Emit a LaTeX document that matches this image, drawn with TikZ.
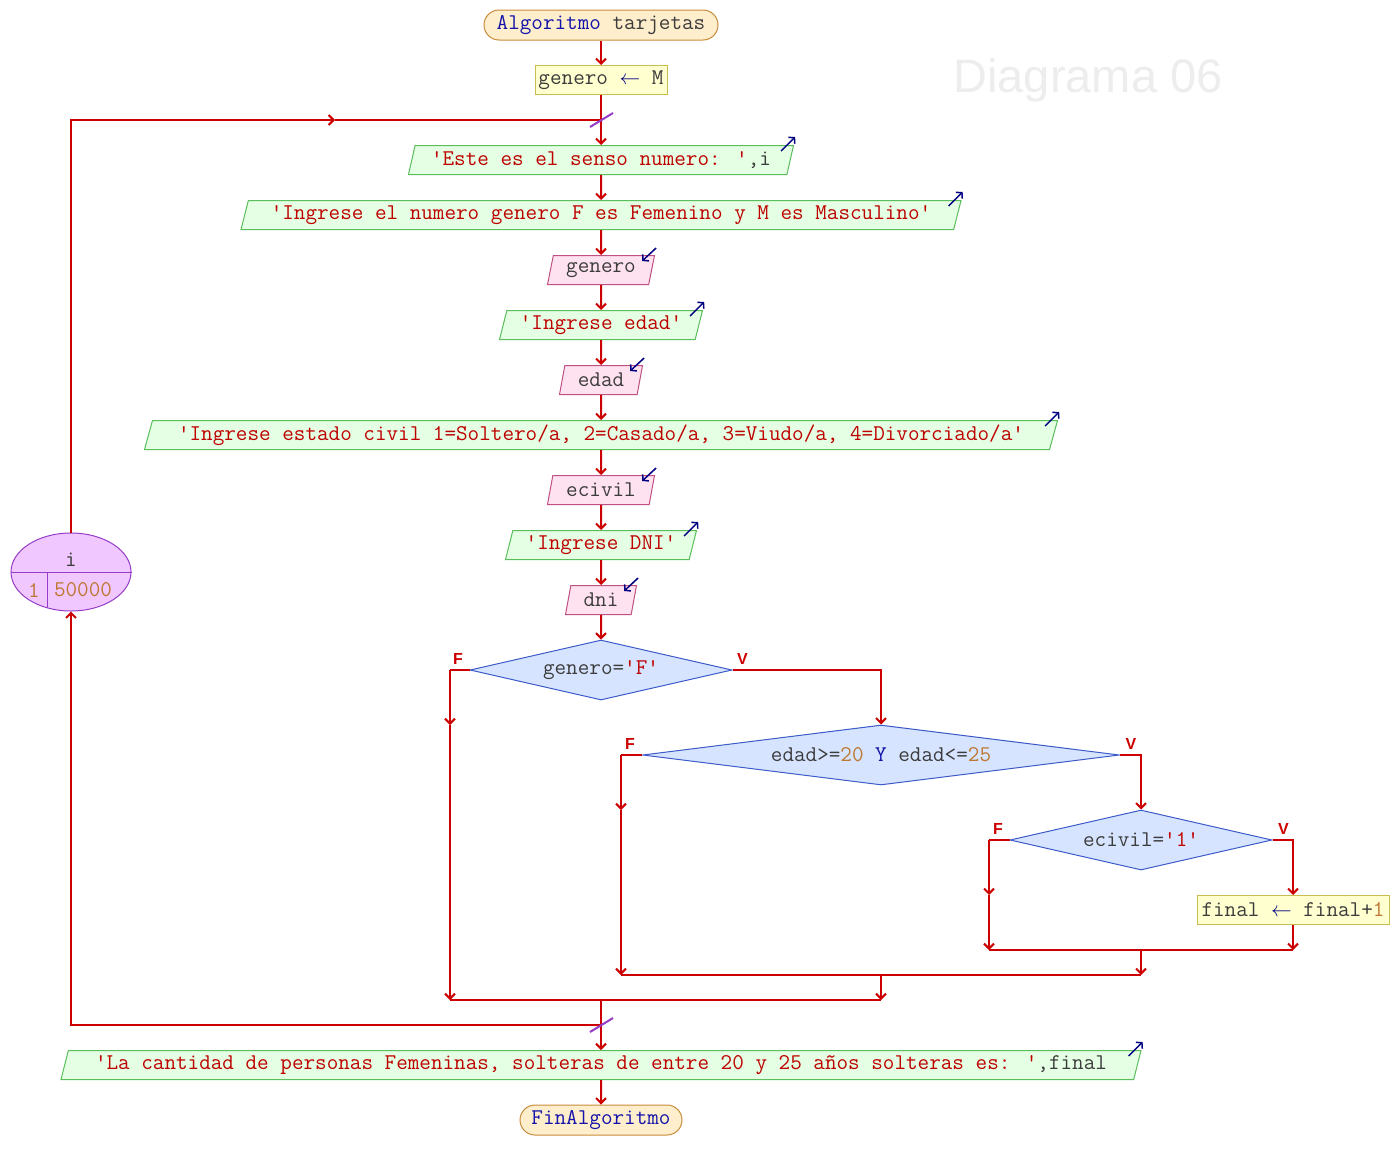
\documentclass[tikz,border=0pt]{standalone}
\usepackage{fontspec}
\newfontfamily\pssans{Liberation Sans}
\usetikzlibrary{shapes.geometric,arrows.meta}

\definecolor{lnred}{RGB}{204,0,0}
\definecolor{strred}{RGB}{190,0,0}
\definecolor{kwblue}{RGB}{20,20,170}
\definecolor{numorg}{RGB}{190,120,50}
\definecolor{idgray}{RGB}{60,60,60}
\definecolor{kwnavy}{RGB}{0,0,130}
\definecolor{termfill}{RGB}{255,238,204}
\definecolor{termline}{RGB}{200,140,60}
\definecolor{asgfill}{RGB}{255,255,208}
\definecolor{asgline}{RGB}{200,190,80}
\definecolor{outfill}{RGB}{228,255,228}
\definecolor{outline}{RGB}{90,190,90}
\definecolor{infill}{RGB}{255,226,240}
\definecolor{inline}{RGB}{190,80,130}
\definecolor{decfill}{RGB}{214,228,255}
\definecolor{decline}{RGB}{60,90,200}
\definecolor{loopfill}{RGB}{240,200,255}
\definecolor{loopline}{RGB}{150,60,200}

\newcommand{\pstr}[1]{\textcolor{strred}{#1}}
\newcommand{\pkw}[1]{\textcolor{kwblue}{#1}}
\newcommand{\pnum}[1]{\textcolor{numorg}{#1}}
\newcommand{\pid}[1]{\textcolor{idgray}{#1}}
\newcommand{\passign}{\textcolor{kwnavy}{$\leftarrow$}}

\tikzset{
  terminal/.style={draw=termline, fill=termfill, line width=1pt, rounded corners=15pt,
    minimum height=30pt, inner sep=0pt},
  assign/.style={draw=asgline, fill=asgfill, line width=1pt, minimum height=29pt, inner sep=0pt},
  output/.style={trapezium, trapezium left angle=69, trapezium right angle=111,
    trapezium stretches body, draw=outline, fill=outfill, line width=1pt,
    minimum height=29pt, inner xsep=4pt, inner ysep=0pt},
  input/.style={output, draw=inline, fill=infill},
  decision/.style={diamond, draw=decline, fill=decfill, line width=1pt,
    minimum height=60pt, inner sep=0pt},
  branch/.style={font=\pssans\bfseries\fontsize{16}{17}\selectfont, text=lnred, inner sep=0pt},
  iotip/.style={->, draw=kwnavy, line width=1.5pt, >={Straight Barb[length=4pt,width=9pt]}},
  loopcut/.style={draw=loopline, line width=2pt},
}

\begin{document}
\begin{tikzpicture}[x=1pt, y=-1pt, line width=2pt, draw=lnred,
    >={Straight Barb[length=5pt,width=10pt]},
    every node/.style={font=\ttfamily\fontsize{22.5}{24}\selectfont}]
  \useasboundingbox (0,0) rectangle (1399,1170);

  % title
  \node[font=\pssans\fontsize{47}{50}\selectfont, text=black!7] (title) at (1088,80) {Diagrama 06};

  % main column
  \node[terminal, minimum width=234pt] (start) at (601,25) {\pkw{Algoritmo} \pid{tarjetas}};
  \node[assign, minimum width=132pt] (asg1) at (601,80) {\pid{genero} \passign{} \pid{M}};
  \node[output, minimum width=385pt] (msgnum) at (601,160) {\pstr{'Este es el senso numero: '}\pid{,i}};
  \node[output, minimum width=720pt] (msggen) at (601,215)
    {\pstr{'Ingrese el numero genero F es Femenino y M es Masculino'}};
  \node[input, minimum width=107pt] (readgen) at (601,270) {\pid{genero}};
  \node[output, minimum width=203pt] (msgedad) at (601,325) {\pstr{'Ingrese edad'}};
  \node[input, minimum width=83pt] (readedad) at (601,380) {\pid{edad}};
  \node[output, minimum width=913pt] (msgciv) at (601,435)
    {\pstr{'Ingrese estado civil 1=Soltero/a, 2=Casado/a, 3=Viudo/a, 4=Divorciado/a'}};
  \node[input, minimum width=107pt] (readciv) at (601,490) {\pid{ecivil}};
  \node[output, minimum width=191pt] (msgdni) at (601,545) {\pstr{'Ingrese DNI'}};
  \node[input, minimum width=71pt] (readdni) at (601,600) {\pid{dni}};

  % decisions
  \node[decision, minimum width=262pt, aspect=4.4] (d1) at (601,670) {\pid{genero=}\pstr{'F'}};
  \node[decision, minimum width=477pt, aspect=8] (d2) at (881,755)
    {\pid{edad>=}\pnum{20} \pkw{Y} \pid{edad<=}\pnum{25}};
  \node[decision, minimum width=262pt, aspect=4.4] (d3) at (1141,840) {\pid{ecivil=}\pstr{'1'}};
  \node[assign, minimum width=192pt] (asg2) at (1293,910) {\pid{final} \passign{} \pid{final+}\pnum{1}};

  % end
  \node[output, minimum width=1080pt] (msgfin) at (601,1065)
    {\pstr{'La cantidad de personas Femeninas, solteras de entre 20 y 25 años solteras es: '}\pid{,final}};
  \node[terminal, minimum width=162pt] (fin) at (601,1120) {\pkw{FinAlgoritmo}};

  % loop
  \node[ellipse, draw=loopline, fill=loopfill, line width=1pt, minimum width=120pt,
    minimum height=78pt, inner sep=0pt] (loop) at (71,572) {};
  \draw[draw=loopline, line width=1pt] (loop.west) -- (loop.east);
  \draw[draw=loopline, line width=1pt] (47,572) -- (47,607.5);
  \node (loopvar) at (71,560) {\pid{i}};
  \node (loopfrom) at (34,590) {\pnum{1}};
  \node (loopto) at (83,590) {\pnum{50000}};

  % io marks
  \draw[iotip] ([shift={(-13,6)}]msgnum.top right corner) -- ++(14,-14);
  \draw[iotip] ([shift={(-13,6)}]msggen.top right corner) -- ++(14,-14);
  \draw[iotip] ([shift={(-13,6)}]msgedad.top right corner) -- ++(14,-14);
  \draw[iotip] ([shift={(-13,6)}]msgciv.top right corner) -- ++(14,-14);
  \draw[iotip] ([shift={(-13,6)}]msgdni.top right corner) -- ++(14,-14);
  \draw[iotip] ([shift={(-13,6)}]msgfin.top right corner) -- ++(14,-14);
  \draw[iotip] ([shift={(1,-7)}]readgen.top right corner) -- ++(-14,13);
  \draw[iotip] ([shift={(1,-7)}]readedad.top right corner) -- ++(-14,13);
  \draw[iotip] ([shift={(1,-7)}]readciv.top right corner) -- ++(-14,13);
  \draw[iotip] ([shift={(1,-7)}]readdni.top right corner) -- ++(-14,13);

  % main flow
  \coordinate (jtop) at (601,120);
  \coordinate (jtopmid) at (335,120);
  \draw[->] (start) -- (asg1);
  \draw[->] (asg1) -- (msgnum);
  \draw[->] (loop.north) |- (jtopmid);
  \draw (jtopmid) -- (jtop);
  \draw[loopcut] ([shift={(-11,7)}]jtop) -- ([shift={(12,-7)}]jtop);
  \draw[->] (msgnum) -- (msggen);
  \draw[->] (msggen) -- (readgen);
  \draw[->] (readgen) -- (msgedad);
  \draw[->] (msgedad) -- (readedad);
  \draw[->] (readedad) -- (msgciv);
  \draw[->] (msgciv) -- (readciv);
  \draw[->] (readciv) -- (msgdni);
  \draw[->] (msgdni) -- (readdni);
  \draw[->] (readdni) -- (d1);

  % genero='F'
  \coordinate (f1) at (450,670);
  \coordinate (f1a) at (450,725);
  \coordinate (j3w) at (450,1000);
  \draw (d1.west) -- (f1);
  \draw[->] (f1) -- (f1a);
  \draw[->] (f1a) -- (j3w);
  \draw[->] (d1.east) -| (d2.north);
  \node[branch] (d1no) at ([shift={(8,-11)}]f1) {F};
  \node[branch] (d1si) at ([shift={(10,-11)}]d1.east) {V};

  % edad
  \coordinate (f2) at (621,755);
  \coordinate (f2a) at (621,810);
  \coordinate (j2w) at (621,975);
  \draw (d2.west) -- (f2);
  \draw[->] (f2) -- (f2a);
  \draw[->] (f2a) -- (j2w);
  \draw[->] (d2.east) -| (d3.north);
  \node[branch] (d2no) at ([shift={(9,-11)}]f2) {F};
  \node[branch] (d2si) at ([shift={(11,-11)}]d2.east) {V};

  % ecivil
  \coordinate (f3) at (989,840);
  \coordinate (f3a) at (989,895);
  \coordinate (j1w) at (989,950);
  \draw (d3.west) -- (f3);
  \draw[->] (f3) -- (f3a);
  \draw[->] (f3a) -- (j1w);
  \draw[->] (d3.east) -| (asg2.north);
  \node[branch] (d3no) at ([shift={(9,-11)}]f3) {F};
  \node[branch] (d3si) at ([shift={(11,-11)}]d3.east) {V};

  % joins
  \coordinate (j1e) at (1293,950);
  \coordinate (j1m) at (1141,950);
  \coordinate (j2e) at (1141,975);
  \coordinate (j2m) at (881,975);
  \coordinate (j3e) at (881,1000);
  \coordinate (j3m) at (601,1000);
  \coordinate (jbot) at (601,1025);
  \draw[->] (asg2) -- (j1e);
  \draw (j1w) -- (j1e);
  \draw[->] (j1m) -- (j2e);
  \draw (j2w) -- (j2e);
  \draw[->] (j2m) -- (j3e);
  \draw (j3w) -- (j3e);
  \draw[->] (j3m) -- (msgfin);
  \draw[->] (jbot) -| (loop.south);
  \draw[loopcut] ([shift={(-11,7)}]jbot) -- ([shift={(12,-7)}]jbot);
  \draw[->] (msgfin) -- (fin);
\end{tikzpicture}
\end{document}
